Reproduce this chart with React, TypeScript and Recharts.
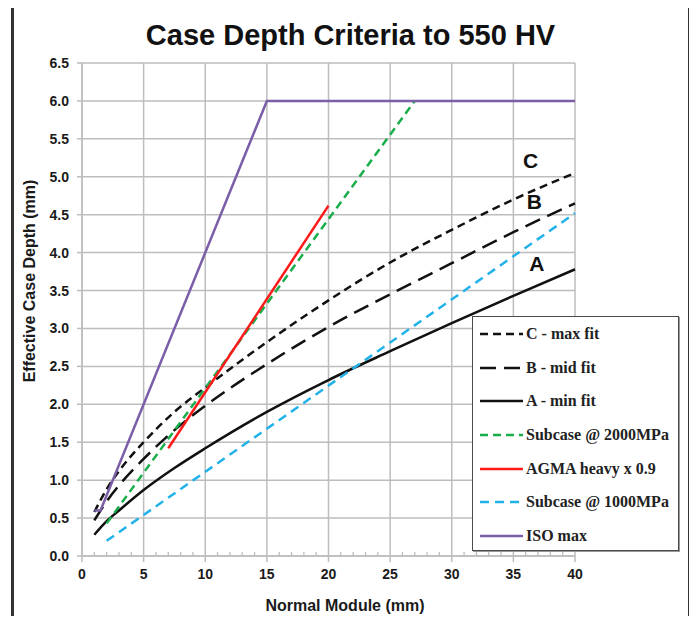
import React from 'react';
import { LineChart, Line, XAxis, YAxis, CartesianGrid, Legend, ReferenceDot, ReferenceLine } from 'recharts';

// values
const moduleFit = [1, 2, 3, 5, 7.5, 10, 15, 20, 25, 30, 35, 40];
const depthMaxFit = [0.58, 0.88, 1.12, 1.5, 1.9, 2.22, 2.82, 3.37, 3.87, 4.3, 4.7, 5.05];
const depthMidFit = [0.47, 0.72, 0.93, 1.28, 1.66, 1.98, 2.53, 3.02, 3.45, 3.86, 4.27, 4.65];
const depthMinFit = [0.28, 0.46, 0.6, 0.87, 1.16, 1.42, 1.9, 2.32, 2.7, 3.07, 3.43, 3.78];

const moduleSub2000 = [2, 27];
const depthSub2000 = [0.43, 6.0];

const moduleAgma = [7, 20];
const depthAgma = [1.42, 4.62];

const moduleSub1000 = [2, 40];
const depthSub1000 = [0.2, 4.52];

const moduleIso = [1, 1.5, 15, 40];
const depthIso = [0.6, 0.6, 6.0, 6.0];

const xTicks = [0, 5, 10, 15, 20, 25, 30, 35, 40];
const xMinorTicks = Array.from({ length: 41 }, (_, i) => i);
const yTicks = [0, 0.5, 1, 1.5, 2, 2.5, 3, 3.5, 4, 4.5, 5, 5.5, 6, 6.5];

const curveLabels = ['C', 'B', 'A'];
const curveLabelX = [36.4, 36.7, 36.9];
const curveLabelY = [5.22, 4.67, 3.86];

const toPoints = (xs: number[], ys: number[]) => xs.map((x, i) => ({ x, y: ys[i] }));

const series = [
  { name: 'C - max fit', data: toPoints(moduleFit, depthMaxFit), color: '#111111', dash: '8 5', type: 'monotone' },
  { name: 'B - mid fit', data: toPoints(moduleFit, depthMidFit), color: '#111111', dash: '16 8', type: 'monotone' },
  { name: 'A - min fit', data: toPoints(moduleFit, depthMinFit), color: '#111111', dash: undefined, type: 'monotone' },
  { name: 'Subcase @ 2000MPa', data: toPoints(moduleSub2000, depthSub2000), color: '#1aad4b', dash: '8 5', type: 'linear' },
  { name: 'AGMA heavy x 0.9', data: toPoints(moduleAgma, depthAgma), color: '#ff1a1a', dash: undefined, type: 'linear' },
  { name: 'Subcase @ 1000MPa', data: toPoints(moduleSub1000, depthSub1000), color: '#22b2ea', dash: '9 6', type: 'linear' },
  { name: 'ISO max', data: toPoints(moduleIso, depthIso), color: '#7a5ea8', dash: undefined, type: 'linear' },
];

const sans = '"Liberation Sans", Arial, sans-serif';
const serif = '"Liberation Serif", "Times New Roman", serif';
const gridColor = '#bdbdbd';
const X_TICK_SIZE = 6;
const X_TICK_MARGIN = 7;

// x axis tick: label + outward tick on the 5s, short inward tick on every unit
const ModuleTick = (props: any) => {
  const { x, y, payload } = props;
  const axisY = y - X_TICK_SIZE - X_TICK_MARGIN;
  const major = xTicks.includes(payload.value);
  return (
    <g>
      {major ? (
        <>
          <line x1={x} x2={x} y1={axisY} y2={axisY + X_TICK_SIZE} stroke={gridColor} strokeWidth={1.5} />
          <text x={x} y={y} dy="0.71em" textAnchor="middle" fill="#1a1a1a" fontSize={14} fontWeight="bold" fontFamily={sans}>
            {payload.value}
          </text>
        </>
      ) : (
        <line x1={x} x2={x} y1={axisY} y2={axisY - 4} stroke={gridColor} strokeWidth={1.3} />
      )}
    </g>
  );
};

const LegendBox = () => (
  <div
    style={{
      width: 207,
      height: 235,
      boxSizing: 'border-box',
      border: '1.5px solid #4a4a4a',
      boxShadow: '1px 1px 0 #9a9a9a',
      background: '#fff',
      padding: '0 0 0 7px',
    }}
  >
    {series.map((s) => (
      <div key={s.name} style={{ display: 'flex', alignItems: 'center', height: 33.7 }}>
        <svg width={44} height={10} style={{ flex: 'none' }}>
          <line x1={0} y1={5} x2={43} y2={5} stroke={s.color} strokeWidth={2.5} strokeDasharray={s.dash} />
        </svg>
        <span
          style={{
            fontFamily: serif,
            fontWeight: 'bold',
            fontSize: 16,
            color: '#222',
            marginLeft: 2,
            whiteSpace: 'nowrap',
          }}
        >
          {s.name}
        </span>
      </div>
    ))}
  </div>
);

export default function App() {
  return (
    <div style={{ position: 'relative', width: 697, height: 624, margin: -8, overflow: 'hidden', background: '#fff' }}>
      <div
        style={{
          position: 'absolute',
          left: 11,
          top: 3,
          width: 680,
          height: 700,
          boxSizing: 'border-box',
          border: '3px solid #333',
        }}
      />
      <div
        style={{
          position: 'absolute',
          left: 2,
          top: 19,
          width: 697,
          textAlign: 'center',
          fontFamily: sans,
          fontWeight: 'bold',
          fontSize: 29,
          lineHeight: '33px',
          color: '#111',
        }}
      >
        Case Depth Criteria to 550 HV
      </div>
      <div
        style={{
          position: 'absolute',
          left: 245,
          top: 596,
          width: 200,
          textAlign: 'center',
          fontFamily: sans,
          fontWeight: 'bold',
          fontSize: 16,
          lineHeight: '20px',
          color: '#1a1a1a',
        }}
      >
        Normal Module (mm)
      </div>
      <div
        style={{
          position: 'absolute',
          left: 30 - 120,
          top: 281 - 10,
          width: 240,
          textAlign: 'center',
          fontFamily: sans,
          fontWeight: 'bold',
          fontSize: 16,
          lineHeight: '20px',
          color: '#1a1a1a',
          transform: 'rotate(-90deg)',
        }}
      >
        Effective Case Depth (mm)
      </div>
      <div style={{ position: 'absolute', left: 0, top: 0 }}>
        <LineChart width={697} height={624} margin={{ top: 63, right: 122, left: 42, bottom: 38 }}>
          <CartesianGrid stroke={gridColor} strokeWidth={1.5} vertical={false} />
          {xTicks.map((t) => (
            <ReferenceLine key={`v${t}`} x={t} stroke={gridColor} strokeWidth={1.5} />
          ))}
          <XAxis
            type="number"
            dataKey="x"
            domain={[0, 40]}
            ticks={xMinorTicks}
            interval={0}
            height={30}
            tickSize={X_TICK_SIZE}
            tickMargin={X_TICK_MARGIN}
            axisLine={{ stroke: gridColor, strokeWidth: 1.5 }}
            tickLine={false}
            tick={<ModuleTick />}
          />
          <YAxis
            type="number"
            domain={[0, 6.5]}
            ticks={yTicks}
            interval={0}
            width={40}
            tickSize={5}
            tickMargin={8}
            tickFormatter={(v: number) => v.toFixed(1)}
            axisLine={{ stroke: gridColor, strokeWidth: 1.5 }}
            tickLine={{ stroke: gridColor, strokeWidth: 1.5 }}
            tick={{ fill: '#1a1a1a', fontSize: 14, fontWeight: 'bold', fontFamily: sans }}
          />
          {series.map((s) => (
            <Line
              key={s.name}
              name={s.name}
              data={s.data}
              dataKey="y"
              type={s.type as 'monotone' | 'linear'}
              stroke={s.color}
              strokeWidth={2.5}
              strokeDasharray={s.dash}
              dot={false}
              activeDot={false}
              isAnimationActive={false}
            />
          ))}
          {curveLabels.map((t, i) => (
            <ReferenceDot
              key={t}
              x={curveLabelX[i]}
              y={curveLabelY[i]}
              r={0}
              stroke="none"
              fill="none"
              label={{ value: t, position: 'center', fill: '#111', fontSize: 21, fontWeight: 'bold', fontFamily: sans }}
            />
          ))}
          <Legend
            layout="vertical"
            align="center"
            verticalAlign="middle"
            wrapperStyle={{ left: 472, top: 316, width: 207, height: 235 }}
            content={() => <LegendBox />}
          />
        </LineChart>
      </div>
    </div>
  );
}
